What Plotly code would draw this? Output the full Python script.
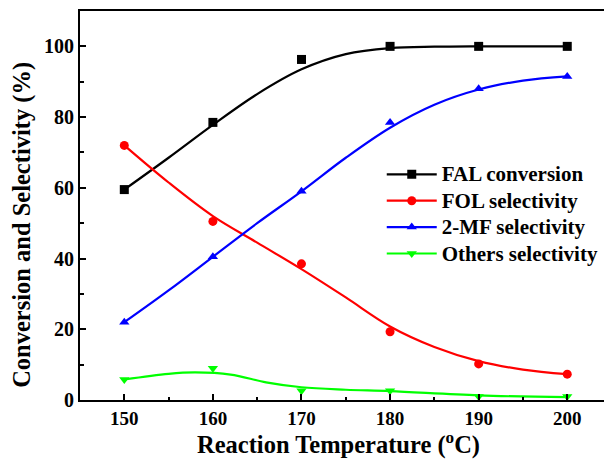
import plotly.graph_objects as go

temps = [150, 160, 170, 180, 190, 200]
fal_conv = [59.5, 78.5, 96.3, 100.0, 100.0, 100.0]
fol_sel = [72.0, 50.5, 38.5, 19.3, 10.2, 7.3]
mf_sel = [22.0, 40.5, 59.0, 78.5, 88.0, 91.5]
oth_sel = [5.8, 9.0, 2.6, 2.6, 1.0, 1.0]

# fitted curves
fal_fit_x = [150, 155, 160, 165, 170, 175, 180, 185, 190, 200]
fal_fit_y = [59.5, 68.5, 77.8, 86.5, 93.5, 97.8, 99.5, 99.9, 100.0, 100.0]
fol_fit_x = [150, 155, 160, 165, 170, 175, 180, 185, 190, 195, 200]
fol_fit_y = [72.0, 61.5, 52.0, 44.5, 37.0, 29.0, 20.8, 15.0, 11.0, 8.6, 7.3]
mf_fit_x = [150, 155, 160, 165, 170, 175, 180, 185, 190, 195, 200]
mf_fit_y = [22.0, 31.0, 40.5, 50.0, 59.0, 68.5, 77.0, 83.5, 87.8, 90.3, 91.5]
oth_fit_x = [150, 155, 158, 162, 166, 170, 175, 180, 190, 200]
oth_fit_y = [5.8, 7.4, 7.8, 7.2, 5.0, 3.6, 2.9, 2.5, 1.3, 0.8]

names = ["FAL conversion", "FOL selectivity", "2-MF selectivity", "Others selectivity"]
colors = ["#000000", "#ff0000", "#0000ff", "#00ff00"]
symbols = ["square", "circle", "triangle-up", "triangle-down"]
data = [fal_conv, fol_sel, mf_sel, oth_sel]
fits = [(fal_fit_x, fal_fit_y), (fol_fit_x, fol_fit_y), (mf_fit_x, mf_fit_y), (oth_fit_x, oth_fit_y)]

fig = go.Figure()
for name, c, s, d, (fx, fy) in zip(names, colors, symbols, data, fits):
    fig.add_trace(go.Scatter(x=fx, y=fy, mode="lines", line=dict(color=c, width=2.2, shape="spline", smoothing=1.0),
                             showlegend=False, hoverinfo="skip"))
    fig.add_trace(go.Scatter(x=temps, y=d, mode="markers", marker=dict(color=c, symbol=s, size=9),
                             showlegend=False))
    fig.add_trace(go.Scatter(x=[None], y=[None], mode="lines+markers",
                             name='<span style="font-size:21px">' + name + '</span>',
                             line=dict(color=c, width=2.2), marker=dict(color=c, symbol=s, size=9)))

font_family = "Liberation Serif, Times New Roman, serif"
fig.update_layout(
    width=604, height=454,
    margin=dict(l=72, r=4, t=3, b=62, autoexpand=False),
    paper_bgcolor="white", plot_bgcolor="white",
    font=dict(family=font_family, color="black"),
    showlegend=True,
    legend=dict(x=0.5715, y=0.627, xanchor="left", yanchor="top",
                font=dict(family=font_family, size=18, color="black", weight="bold"),
                bgcolor="rgba(0,0,0,0)", itemwidth=50, tracegroupgap=0),
    annotations=[
        dict(text="<b>Reaction Temperature (<sup>o</sup>C)</b>", xref="paper", yref="paper",
             x=0.489, y=-0.113, yanchor="middle", showarrow=False, font=dict(size=24.5, family=font_family)),
        dict(text="<b>Conversion and Selectivity (%)</b>", xref="paper", yref="paper",
             x=-0.11, y=0.45, xanchor="center", yanchor="middle", textangle=-90, showarrow=False,
             font=dict(size=24.5, family=font_family)),
    ],
)
fig.update_xaxes(range=[145, 204.6], tickvals=[150, 160, 170, 180, 190, 200], automargin=False,
                 ticks="inside", ticklen=6, tickwidth=1.8, tickcolor="black",
                 minor=dict(ticks="inside", ticklen=3.5, dtick=5, tickcolor="black", tickwidth=1.8),
                 showline=True, linecolor="black", linewidth=2, mirror=True, showgrid=False, zeroline=False,
                 tickfont=dict(size=19, family=font_family, weight="bold"))
fig.update_yaxes(range=[0, 110], tickvals=[0, 20, 40, 60, 80, 100], automargin=False,
                 ticks="inside", ticklen=6, tickwidth=1.8, tickcolor="black",
                 minor=dict(ticks="inside", ticklen=3.5, tickvals=[10, 30, 50, 70, 90], tickcolor="black", tickwidth=1.8),
                 showline=True, linecolor="black", linewidth=2, mirror=True, showgrid=False, zeroline=False,
                 tickfont=dict(size=20, family=font_family, weight="bold"))

fig.write_html("out.html")
